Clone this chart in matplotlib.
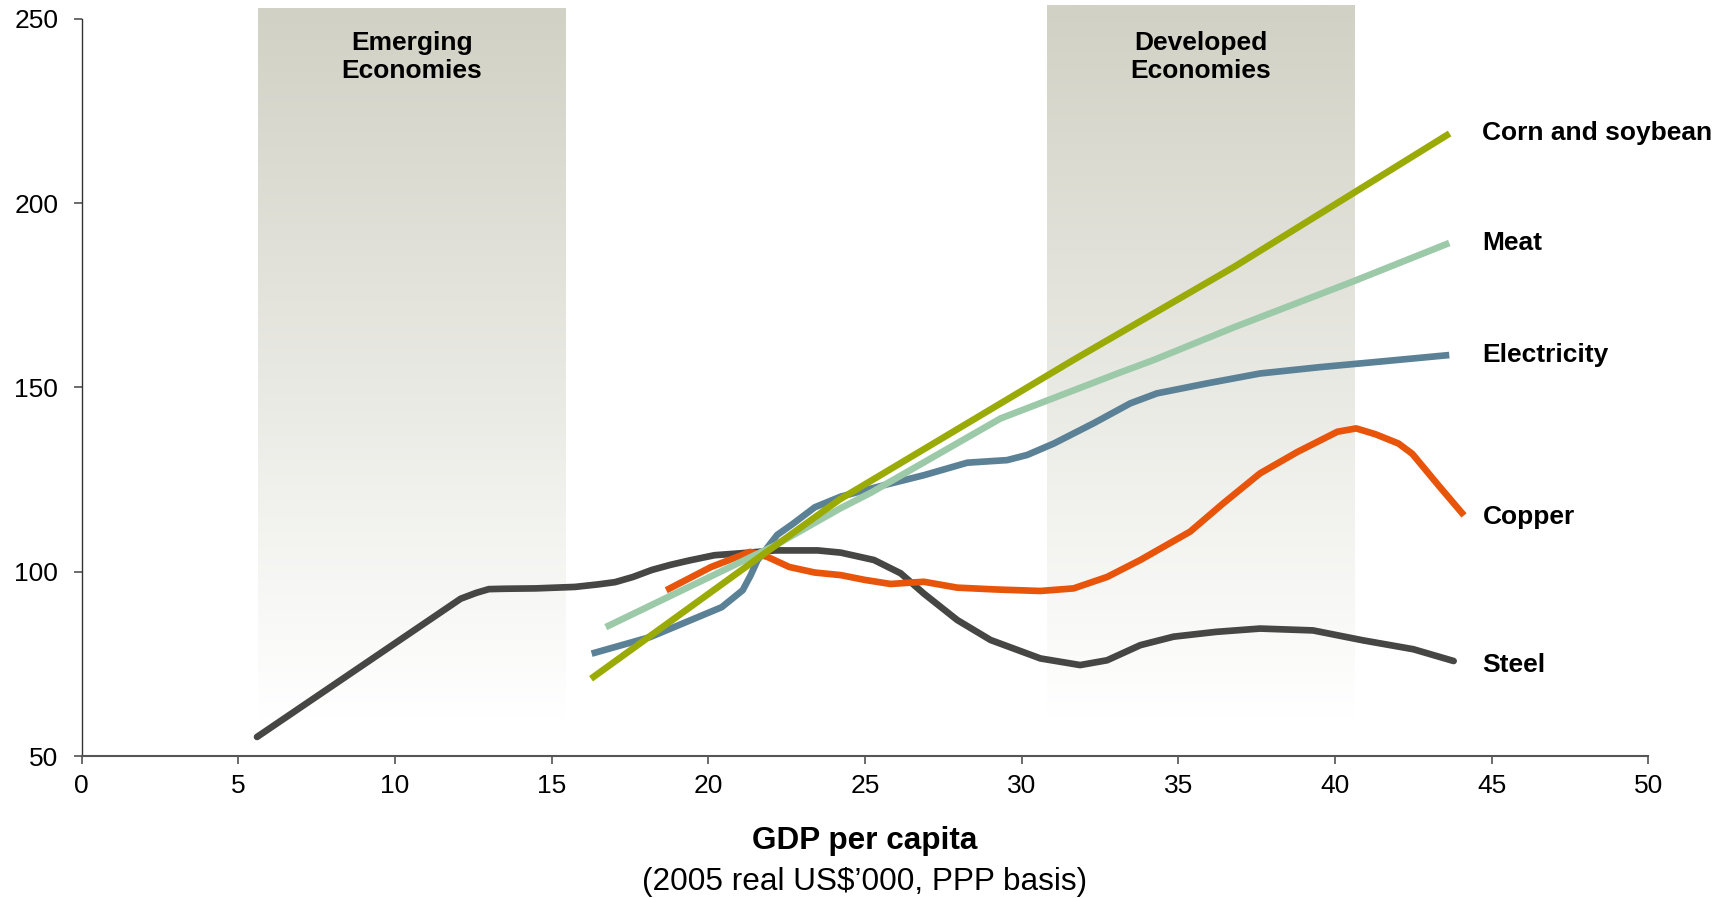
import matplotlib
matplotlib.use("Agg")
import matplotlib.pyplot as plt
import numpy as np
from matplotlib.colors import LinearSegmentedColormap

plt.rcParams['font.family'] = ['Liberation Sans', 'DejaVu Sans']

# data (GDP per capita, index)
steel_x = [5.6, 12.1, 12.6, 13.0, 13.5, 14.5, 15.75, 16.5, 17.03, 17.6, 18.2, 18.8, 19.41,
           20.2, 21.0, 22.14, 23.5, 24.23, 25.29, 26.14, 26.88, 27.95, 29.01, 30.6, 31.87,
           32.73, 33.79, 34.85, 36.2, 37.61, 39.3, 40.9, 42.5, 43.79]
steel_y = [55.2, 92.7, 94.3, 95.3, 95.4, 95.5, 95.9, 96.6, 97.2, 98.6, 100.5, 101.9, 103.1,
           104.5, 105.0, 105.8, 105.8, 105.2, 103.2, 99.6, 94.1, 86.9, 81.5, 76.5, 74.7,
           76.0, 80.1, 82.4, 83.7, 84.6, 84.1, 81.4, 79.0, 75.8]

copper_x = [18.66, 20.09, 21.34, 21.9, 22.59, 23.4, 24.23, 25.0, 25.82, 26.88, 27.95, 29.2,
            30.6, 31.66, 32.73, 33.79, 35.38, 36.44, 37.61, 38.8, 40.08, 40.68, 41.3, 42.03,
            42.47, 43.3, 44.12]
copper_y = [95.0, 101.3, 105.4, 104.0, 101.3, 99.8, 99.1, 97.8, 96.7, 97.3, 95.7, 95.2,
            94.8, 95.5, 98.6, 103.2, 110.9, 118.6, 126.7, 132.5, 138.0, 138.9, 137.3, 134.8,
            132.0, 123.5, 115.3]

elec_x = [16.28, 18.15, 20.43, 21.1, 21.35, 21.57, 22.2, 22.7, 23.4, 24.23, 25.61, 26.88,
          28.27, 29.54, 30.18, 31.03, 32.3, 33.47, 34.32, 35.91, 37.61, 39.5, 41.28, 43.65]
elec_y = [77.8, 82.3, 90.4, 95.0, 99.0, 103.1, 110.0, 113.0, 117.5, 120.4, 123.5, 126.2,
          129.6, 130.3, 131.7, 134.8, 140.3, 145.7, 148.4, 151.1, 153.8, 155.5, 156.9, 158.8]

meat_x = [16.73, 22.14, 24.19, 25.2, 29.33, 33.06, 34.2, 36.8, 40.53, 43.65]
meat_y = [85.0, 107.2, 117.1, 121.5, 141.6, 153.8, 157.4, 166.4, 178.6, 189.2]

corn_x = [16.26, 21.93, 24.19, 31.64, 36.78, 43.66]
corn_y = [71.0, 105.8, 119.6, 157.4, 182.7, 218.9]

series_names = ["Corn and soybean", "Meat", "Electricity", "Copper", "Steel"]
label_y = [219, 189.3, 158.7, 114.9, 74.6]

regions = [("Emerging\nEconomies", 5.64, 15.44, 252.7),
           ("Developed\nEconomies", 30.82, 40.62, 253.6)]

fig = plt.figure(figsize=(17.35, 8.98), dpi=100)
ax = fig.add_axes([0.047, 0.158, 0.903, 0.821])

# shaded regions with vertical gradient
cmap = LinearSegmentedColormap.from_list("fade", ["#ffffff", "#d1d1c5"])
grad = np.linspace(0, 1, 256).reshape(-1, 1)
for name, x0, x1, top in regions:
    ax.imshow(grad, cmap=cmap, origin='lower', aspect='auto',
              extent=[x0, x1, 60, top], clip_on=False, zorder=0)
    ax.text((x0 + x1) / 2, 239.6, name, ha='center', va='center',
            fontsize=19, fontweight='bold', linespacing=1.2)

lw = 4.8
ax.plot(steel_x, steel_y, color="#464744", lw=lw, solid_capstyle='round',
        solid_joinstyle='round', zorder=3)
ax.plot(copper_x, copper_y, color="#e8540a", lw=lw, solid_capstyle='butt',
        solid_joinstyle='round', zorder=3)
ax.plot(elec_x, elec_y, color="#5b8197", lw=lw, solid_capstyle='butt',
        solid_joinstyle='round', zorder=3)
ax.plot(meat_x, meat_y, color="#9ccaa9", lw=lw, solid_capstyle='butt',
        solid_joinstyle='round', zorder=3)
ax.plot(corn_x, corn_y, color="#9aab05", lw=lw, solid_capstyle='butt',
        solid_joinstyle='round', zorder=4)

for name, yy in zip(series_names, label_y):
    ax.text(44.71, yy, name, ha='left', va='center', fontsize=19, fontweight='bold')

ax.set_xlim(0, 50)
ax.set_ylim(50, 250)
ax.set_xticks(range(0, 51, 5))
ax.set_yticks(range(50, 251, 50))
ax.tick_params(axis='both', labelsize=19, direction='out', length=5.8, width=1.1,
               color='#444444')
ax.tick_params(axis='x', pad=7)
ax.tick_params(axis='y', pad=11)
for s in ['top', 'right']:
    ax.spines[s].set_visible(False)
ax.spines['left'].set_color('#333333')
ax.spines['left'].set_linewidth(1.0)
ax.spines['bottom'].set_color('#555555')
ax.spines['bottom'].set_linewidth(1.5)

fig.text(0.5 * (0.047 + 0.95), 1 - 841 / 898, "GDP per capita", ha='center', va='center',
         fontsize=22.7, fontweight='bold')
fig.text(0.5 * (0.047 + 0.95), 1 - 882 / 898, "(2005 real US$\u2019000, PPP basis)",
         ha='center', va='center', fontsize=22.7)

fig.savefig("out.png", dpi=100)
